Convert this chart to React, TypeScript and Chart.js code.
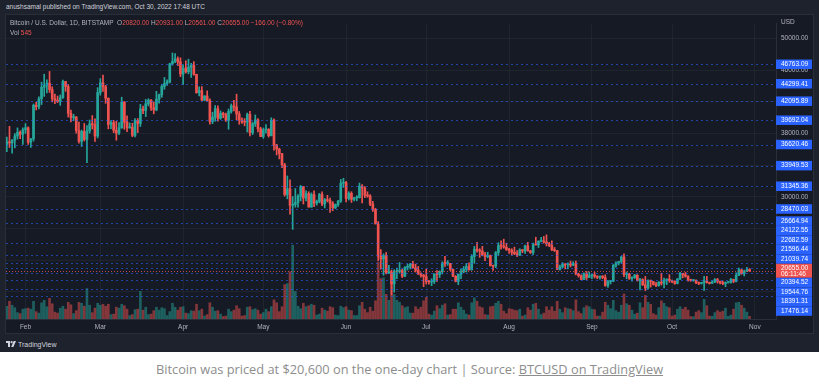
import React, { useEffect, useRef } from 'react';
import { Chart, registerables } from 'chart.js';

Chart.register(...registerables);

// Daily candles, BITSTAMP BTC/USD, 25 Jan 2022 .. 30 Oct 2022 (index 0 = 25 Jan)
const opens = [
  36660, 36960, 36820, 37180, 37710, 38170, 37920,
  38480, 38740, 36900, 37330, 41570, 41410, 42400, 43850, 44090, 44370, 43560, 42400, 42220, 42070, 42550, 44580, 43950, 40560, 40010, 40100, 38380, 37020, 38270, 37250, 38350, 39220, 39120, 37700,
  43190, 44420, 43920, 42460, 39150, 39400, 38420, 38060, 38740, 41980, 39440, 38730, 38810, 37780, 39670, 39280, 41120, 40920, 41760, 42230, 41260, 41000, 42360, 42900, 43960, 44330, 44520, 46820, 47130, 47450, 47060,
  45530, 46280, 45820, 46400, 46620, 45500, 43170, 43440, 42250, 42750, 42160, 39530, 40080, 41150, 39940, 40550, 40380, 39680, 40800, 41500, 41370, 40480, 39710, 39470, 39450, 40430, 38120, 39240, 39740, 38600,
  37630, 38470, 38530, 37740, 39700, 36570, 36040, 35470, 34060, 30300, 31010, 28940, 29050, 29280, 30080, 31300, 29860, 30420, 28710, 30290, 29200, 29430, 30300, 29100, 29650, 29540, 29200, 28620, 29010, 29450, 31730,
  31790, 29800, 30440, 29690, 29860, 29900, 31360, 31120, 30200, 30110, 29090, 28420, 26570, 22490, 22140, 22580, 20380, 20470, 19000, 20560, 20560, 20710, 19970, 21090, 21230, 21500, 21030, 20730, 20250, 20090,
  19930, 19280, 19250, 19300, 20230, 20190, 20550, 21620, 21590, 21590, 20850, 19960, 19320, 20210, 20570, 20830, 21190, 20780, 22470, 23390, 23230, 23150, 22680, 22450, 22580, 21310, 21250, 22950, 23850, 23780, 23640,
  23300, 23270, 22990, 22820, 22620, 23310, 23180, 23810, 23160, 22960, 23950, 23940, 24400, 24440, 24300, 24100, 23850, 23340, 23210, 20830, 21140, 21520, 21410, 21530, 21370, 21570, 20270, 20040, 19550, 20280, 19810,
  20050, 20130, 19950, 19830, 19990, 19800, 18790, 19290, 19320, 21360, 21650, 21840, 22400, 20180, 20230, 19700, 19800, 20110, 19420, 19540, 18880, 18480, 19410, 19300, 18920, 18800, 19220, 19080, 19410, 19590,
  19430, 19310, 19060, 19620, 20340, 20160, 19960, 19530, 19420, 19440, 19130, 19060, 19160, 19380, 19180, 19070, 19260, 19550, 19330, 19120, 19040, 19170, 19210, 19570, 19330, 20090, 20770, 20290, 20600, 20820,
];
const highs = [
  37550, 38920, 37230, 38000, 38720, 38360, 38740,
  39260, 38850, 37390, 41740, 41950, 42650, 44500, 45500, 44800, 45850, 43920, 43000, 42750, 42880, 44750, 44600, 44200, 40980, 40440, 40150, 39470, 38440, 39280, 39000, 39710, 40280, 39850, 43800,
  44950, 45400, 44100, 42520, 39650, 39660, 39550, 39380, 42600, 42050, 40250, 39350, 39310, 39900, 39900, 41700, 41480, 42320, 42400, 42300, 42000, 43350, 43000, 44200, 45100, 44780, 46900, 48190, 48100, 47700, 47580,
  46700, 47200, 47400, 46880, 47100, 45500, 43900, 43950, 42800, 43400, 42400, 40700, 41550, 41500, 40860, 40700, 40600, 41100, 41750, 42200, 42980, 40800, 39980, 39900, 40600, 40800, 39450, 40350, 39900, 38800,
  38700, 39150, 38630, 40000, 39850, 36650, 36150, 35520, 34250, 32650, 32150, 30050, 31050, 30300, 31450, 31300, 30750, 30650, 30500, 30750, 29600, 30450, 30650, 29800, 30200, 29850, 29400, 29100, 29550, 32200, 32350,
  31950, 30650, 30650, 29950, 30150, 31750, 31550, 31300, 30650, 30300, 29450, 28550, 26880, 23350, 22800, 22980, 21350, 20750, 20800, 21000, 21700, 20850, 21200, 21500, 21600, 21850, 21500, 21200, 20400, 20200,
  20880, 19450, 19650, 20300, 20700, 20650, 21800, 22500, 21950, 21600, 20870, 20050, 20250, 20900, 21200, 21600, 21650, 22700, 23750, 24250, 23450, 23750, 22980, 23000, 22650, 21350, 23100, 24200, 24450, 24650, 24150,
  23500, 23450, 23650, 23200, 23450, 23350, 23900, 24250, 23250, 24150, 24900, 24450, 24900, 25000, 25200, 24250, 24450, 23600, 23220, 21380, 21700, 21550, 21650, 21880, 21800, 21880, 20350, 20150, 20400, 20570, 20500,
  20200, 20450, 20050, 20000, 20050, 20150, 19450, 19450, 21450, 21800, 21800, 22500, 22800, 20500, 20350, 19900, 20200, 20150, 19700, 19650, 19950, 19500, 19500, 19300, 19200, 19300, 20350, 19750, 19650, 20180,
  19480, 19400, 19700, 20450, 20350, 20450, 20050, 19600, 19550, 19530, 19250, 19200, 19950, 19950, 19220, 19400, 19680, 19700, 19350, 19350, 19250, 19250, 19700, 19600, 20400, 21000, 20850, 20740, 21080, 20931,
];
const lows = [
  35700, 36250, 35510, 36200, 37310, 37360, 36630,
  38030, 36630, 36250, 37050, 40990, 41130, 41670, 42700, 43150, 43200, 42000, 41770, 41900, 41570, 42440, 43340, 40100, 39480, 39650, 38050, 36800, 36370, 37060, 34330, 38050, 38580, 37020, 37450,
  42850, 43330, 41830, 38600, 38620, 38100, 37160, 37870, 38660, 38550, 38250, 38670, 37600, 37580, 38130, 38900, 40530, 40150, 41500, 40920, 40500, 40880, 41850, 42580, 43600, 44100, 44400, 46650, 46950, 46600, 45200,
  44200, 45650, 45550, 45100, 45380, 43100, 42750, 42150, 42150, 42100, 39200, 39250, 39570, 39560, 39800, 40000, 39550, 38550, 40580, 40850, 39750, 39180, 39300, 38980, 38200, 37700, 37880, 38900, 38200, 37600,
  37400, 38050, 37550, 37700, 35900, 35300, 34800, 33700, 30100, 29750, 27800, 25900, 28700, 28700, 29500, 29100, 29500, 28700, 28700, 28750, 28950, 29250, 28900, 28600, 29350, 28050, 28250, 28500, 28800, 29300, 31200,
  29350, 29600, 29300, 29480, 29500, 29850, 29250, 29900, 29950, 28900, 28150, 26600, 21950, 20850, 20100, 20250, 20300, 17600, 17950, 19650, 20350, 19800, 19900, 20750, 20900, 21000, 20500, 20200, 19850, 18650,
  18980, 18980, 18780, 19050, 19300, 19800, 20250, 21200, 21350, 20680, 19900, 19250, 18900, 19650, 20400, 20500, 20750, 20750, 21600, 23000, 22350, 22550, 21950, 22300, 21250, 20700, 21050, 22600, 23400, 23500, 23250,
  22850, 22650, 22700, 22450, 22600, 22950, 22850, 23150, 22850, 22700, 23900, 23600, 24300, 24150, 23800, 23700, 23200, 23100, 20800, 20750, 21050, 20900, 20900, 21150, 21300, 20150, 19850, 19550, 19550, 19550, 19800,
  19650, 19750, 19650, 19600, 19650, 18700, 18550, 19000, 19300, 21100, 21400, 21600, 19900, 19650, 19550, 19350, 19700, 19350, 18250, 18800, 18150, 18350, 18600, 18850, 18650, 18700, 18850, 18500, 18900, 19200,
  19150, 18950, 19000, 19550, 19770, 19850, 19350, 19330, 19320, 19030, 18900, 18970, 18180, 19100, 18980, 19050, 19150, 19100, 19000, 18900, 18650, 19100, 19080, 19150, 19250, 20050, 20200, 20000, 20550, 20561,
];
const closes = [
  36960, 36820, 37180, 37710, 38170, 37920, 38480,
  38740, 36900, 37330, 41570, 41410, 42400, 43850, 44090, 44370, 43560, 42400, 42220, 42070, 42550, 44580, 43950, 40560, 40010, 40100, 38380, 37020, 38270, 37250, 38350, 39220, 39120, 37700, 43190,
  44420, 43920, 42460, 39150, 39400, 38420, 38060, 38740, 41980, 39440, 38730, 38810, 37780, 39670, 39280, 41120, 40920, 41760, 42230, 41260, 41000, 42360, 42900, 43960, 44330, 44520, 46820, 47130, 47450, 47060, 45530,
  46280, 45820, 46400, 46620, 45500, 43170, 43440, 42250, 42750, 42160, 39530, 40080, 41150, 39940, 40550, 40380, 39680, 40800, 41500, 41370, 40480, 39710, 39470, 39450, 40430, 38120, 39240, 39740, 38600, 37630,
  38470, 38530, 37740, 39700, 36570, 36040, 35470, 34060, 30300, 31010, 28940, 29050, 29280, 30080, 31300, 29860, 30420, 28710, 30290, 29200, 29430, 30300, 29100, 29650, 29540, 29200, 28620, 29010, 29450, 31730, 31790,
  29800, 30440, 29690, 29860, 29900, 31360, 31120, 30200, 30110, 29090, 28420, 26570, 22490, 22140, 22580, 20380, 20470, 19000, 20560, 20560, 20710, 19970, 21090, 21230, 21500, 21030, 20730, 20250, 20090, 19930,
  19280, 19250, 19300, 20230, 20190, 20550, 21620, 21590, 21590, 20850, 19960, 19320, 20210, 20570, 20830, 21190, 20780, 22470, 23390, 23230, 23150, 22680, 22450, 22580, 21310, 21250, 22950, 23850, 23780, 23640, 23300,
  23270, 22990, 22820, 22620, 23310, 23180, 23810, 23160, 22960, 23950, 23940, 24400, 24440, 24300, 24100, 23850, 23340, 23210, 20830, 21140, 21520, 21410, 21530, 21370, 21570, 20270, 20040, 19550, 20280, 19810, 20050,
  20130, 19950, 19830, 19990, 19800, 18790, 19290, 19320, 21360, 21650, 21840, 22400, 20180, 20230, 19700, 19800, 20110, 19420, 19540, 18880, 18480, 19410, 19300, 18920, 18800, 19220, 19080, 19410, 19590, 19430,
  19310, 19060, 19620, 20340, 20160, 19960, 19530, 19420, 19440, 19130, 19060, 19160, 19380, 19180, 19070, 19260, 19550, 19330, 19120, 19040, 19170, 19210, 19570, 19330, 20090, 20770, 20290, 20600, 20821, 20655,
];
const volumes = [
  2600, 3600, 2800, 2300, 1300, 1100, 2000,
  2100, 2200, 2000, 3600, 1500, 1200, 3300, 3800, 2500, 4200, 3100, 1400, 1200, 2200, 2600, 2000, 3400, 2900, 1100, 1700, 3400, 3200, 2600, 6200, 2800, 1300, 2200, 3200,
  2800, 3000, 2600, 3000, 900, 1000, 2400, 2200, 3000, 2700, 2000, 700, 900, 1900, 2000, 5600, 1800, 2400, 900, 1000, 1700, 2400, 1800, 2300, 2100, 700, 1500, 3200, 2400, 1800, 2400,
  2500, 1200, 1100, 1700, 1600, 3000, 1700, 2000, 600, 900, 3300, 2400, 1600, 1700, 1000, 500, 600, 2000, 1500, 1800, 2700, 2100, 600, 700, 2400, 2500, 1900, 2100, 1800, 1000,
  1300, 2000, 1500, 2500, 3900, 3300, 1500, 2500, 7000, 7200, 9600, 15000, 5600, 2600, 2100, 3200, 2500, 2700, 3000, 2800, 800, 1000, 2200, 1800, 1600, 2500, 2300, 800, 700, 2600, 2300,
  2500, 1800, 1700, 700, 700, 2700, 3400, 2000, 1300, 2400, 1600, 3700, 11600, 8200, 8400, 5000, 3800, 8800, 5000, 3800, 3400, 2700, 2300, 2500, 1200, 1200, 2500, 2000, 2400, 3700,
  4400, 1000, 800, 1600, 2700, 2100, 2800, 3100, 800, 900, 2000, 2000, 3300, 2400, 1800, 1000, 800, 3300, 4300, 3600, 2500, 2300, 900, 800, 2500, 2600, 3200, 3600, 3000, 1600, 1100,
  2100, 2000, 1800, 1700, 2000, 600, 800, 2300, 1800, 3000, 3200, 2000, 900, 1200, 2500, 1800, 2500, 1600, 3600, 2000, 1300, 2300, 2100, 2000, 1700, 3900, 1500, 1100, 2300, 2700, 2500,
  2000, 1900, 600, 600, 1400, 3400, 2800, 2100, 3800, 1700, 1400, 2800, 5100, 3100, 2800, 1800, 1000, 1200, 3300, 2300, 4800, 3400, 3000, 1100, 800, 2300, 3700, 3200, 2500, 2300,
  600, 800, 2000, 2500, 2000, 2400, 1800, 500, 450, 1400, 1700, 1300, 4000, 2700, 600, 550, 1300, 1700, 1400, 1600, 2200, 550, 800, 2000, 3300, 3400, 2800, 2200, 1400, 545,
];

const monthLabels = ['Feb', 'Mar', 'Apr', 'May', 'Jun', 'Jul', 'Aug', 'Sep', 'Oct', 'Nov'];
const monthStartIdx = [7, 35, 66, 96, 127, 157, 188, 219, 249, 280];
const priceTicks = [18000, 22000, 26000, 30000, 34000, 38000, 42000, 46000, 50000];
const levelPrices = [
  46763.09, 44299.41, 42095.89, 39692.04, 36620.46, 33949.53, 31345.36, 28470.03,
  26664.94, 24122.55, 22682.59, 21596.44, 21039.74, 20394.52, 19544.76, 18391.31, 17476.14,
];
const countdown = '06:11:46';

const TEAL = '#26a69a';
const RED = '#ef5350';
const TEAL_V = 'rgba(38,166,154,0.5)';
const RED_V = 'rgba(239,83,80,0.5)';
const AXIS_TXT = '#b2b5be';
const SMALL_FONT = '"Liberation Sans", Arial, sans-serif';

const overlayPlugin = {
  id: 'overlay',
  afterDatasetsDraw(chart: any) {
    const { ctx, chartArea: a, scales } = chart;
    const y = scales.y;
    ctx.save();
    ctx.beginPath();
    ctx.rect(a.left, a.top, a.right - a.left, a.bottom - a.top);
    ctx.clip();
    ctx.lineWidth = 1;
    ctx.setLineDash([2, 3]);
    ctx.strokeStyle = 'rgba(41,98,255,0.6)';
    for (const p of levelPrices) {
      const py = Math.round(y.getPixelForValue(p)) + 0.5;
      ctx.beginPath();
      ctx.moveTo(a.left, py);
      ctx.lineTo(a.right, py);
      ctx.stroke();
    }
    const last = closes[closes.length - 1];
    const ly = Math.round(y.getPixelForValue(last)) + 0.5;
    ctx.strokeStyle = 'rgba(239,83,80,0.8)';
    ctx.setLineDash([1, 2]);
    ctx.beginPath();
    ctx.moveTo(a.left, ly);
    ctx.lineTo(a.right, ly);
    ctx.stroke();
    ctx.restore();
  },
  afterDraw(chart: any) {
    const { ctx, chartArea: a, scales } = chart;
    const y = scales.y;
    const last = closes[closes.length - 1];
    type Item = { t: number; h: number; lines: string[]; color: string };
    const items: Item[] = levelPrices.map((p) => ({ t: y.getPixelForValue(p), h: 9.5, lines: [p.toFixed(2)], color: '#2962ff' }));
    items.push({ t: y.getPixelForValue(last), h: 14, lines: [last.toFixed(2), countdown], color: RED });
    items.sort((p, q) => p.t - q.t);
    let groups = items.map((it) => ({ items: [it], c: it.t, h: it.h }));
    let changed = true;
    while (changed) {
      changed = false;
      for (let i = 0; i < groups.length - 1; i++) {
        const g = groups[i];
        const n = groups[i + 1];
        if (g.c + g.h / 2 > n.c - n.h / 2) {
          const its = g.items.concat(n.items);
          const c = its.reduce((s, it) => s + it.t, 0) / its.length;
          groups.splice(i, 2, { items: its, c, h: g.h + n.h });
          changed = true;
          break;
        }
      }
    }
    ctx.save();
    ctx.font = `6.5px ${SMALL_FONT}`;
    ctx.textBaseline = 'middle';
    ctx.textAlign = 'left';
    const x0 = a.right;
    const w = 36;
    for (const g of groups) {
      let top = g.c - g.h / 2;
      if (top + g.h > a.bottom) top = a.bottom - g.h;
      if (top < a.top) top = a.top;
      for (const it of g.items) {
        ctx.fillStyle = it.color;
        ctx.fillRect(x0, top, w, it.h);
        ctx.fillStyle = '#ffffff';
        if (it.lines.length === 1) {
          ctx.fillText(it.lines[0], x0 + 5, top + it.h / 2);
        } else {
          ctx.fillText(it.lines[0], x0 + 5, top + 4);
          ctx.fillText(it.lines[1], x0 + 5, top + 10.5);
        }
        top += it.h;
      }
    }
    ctx.fillStyle = AXIS_TXT;
    ctx.fillText('USD', x0 + 5, 7);
    ctx.restore();
  },
};

export default function App() {
  const ref = useRef<HTMLCanvasElement | null>(null);

  useEffect(() => {
    if (!ref.current) return;
    const idx = closes.map((_, i) => i);
    const up = idx.map((i) => closes[i] >= opens[i]);
    const chart = new Chart(ref.current, {
      type: 'bar',
      data: {
        datasets: [
          {
            label: 'body',
            data: idx.map((i) => ({ x: i, y: [opens[i], closes[i]] })) as any,
            backgroundColor: up.map((u) => (u ? TEAL : RED)),
            barThickness: 2,
            minBarLength: 1,
            grouped: false,
            order: 1,
            yAxisID: 'y',
          } as any,
          {
            label: 'wick',
            data: idx.map((i) => ({ x: i, y: [lows[i], highs[i]] })) as any,
            backgroundColor: up.map((u) => (u ? TEAL : RED)),
            barThickness: 1,
            grouped: false,
            order: 2,
            yAxisID: 'y',
          } as any,
          {
            label: 'vol',
            data: idx.map((i) => ({ x: i, y: volumes[i] })) as any,
            backgroundColor: up.map((u) => (u ? TEAL_V : RED_V)),
            barThickness: 2,
            grouped: false,
            order: 3,
            yAxisID: 'yv',
          } as any,
        ],
      },
      options: {
        responsive: false,
        animation: false,
        devicePixelRatio: 1,
        layout: { padding: 0 },
        plugins: { legend: { display: false }, tooltip: { enabled: false } },
        scales: {
          x: {
            type: 'linear',
            min: -0.3,
            max: 287.9,
            offset: false,
            position: 'bottom',
            afterBuildTicks: (s: any) => {
              s.ticks = monthStartIdx.map((v) => ({ value: v }));
            },
            afterFit: (s: any) => {
              s.height = 14;
            },
            grid: { offset: false, color: 'rgba(42,46,57,0.55)', drawTicks: false },
            border: { color: '#2a2e39' },
            ticks: {
              autoSkip: false,
              maxRotation: 0,
              padding: 4,
              color: AXIS_TXT,
              font: { family: SMALL_FONT, size: 6.5 },
              callback: (v: any) => {
                const k = monthStartIdx.indexOf(Number(v));
                return k >= 0 ? monthLabels[k] : '';
              },
            },
          } as any,
          y: {
            type: 'linear',
            position: 'right',
            min: 14564,
            max: 51865,
            afterBuildTicks: (s: any) => {
              s.ticks = priceTicks.map((v) => ({ value: v }));
            },
            afterFit: (s: any) => {
              s.width = 37;
            },
            grid: { color: 'rgba(42,46,57,0.55)', drawTicks: false },
            border: { color: '#2a2e39' },
            ticks: {
              autoSkip: false,
              padding: 5,
              color: AXIS_TXT,
              font: { family: SMALL_FONT, size: 6.5 },
              callback: (v: any) => Number(v).toFixed(2),
            },
          } as any,
          yv: {
            type: 'linear',
            display: false,
            min: 0,
            max: 60000,
          },
        },
      },
      plugins: [overlayPlugin],
    });
    return () => chart.destroy();
  }, []);

  const n = closes.length;
  const o = opens[n - 1];
  const c = closes[n - 1];
  const chg = c - closes[n - 2];
  const pct = (chg / closes[n - 2]) * 100;
  const fmtSigned = (v: number, d: number) => (v < 0 ? '\u2212' : '+') + Math.abs(v).toFixed(d);
  const small: React.CSSProperties = { fontFamily: SMALL_FONT, fontSize: '6.5px', whiteSpace: 'pre', position: 'absolute' };

  return (
    <div style={{ position: 'absolute', left: 0, top: 0, width: 821, height: 387, background: '#ffffff', overflow: 'hidden' }}>
      <div style={{ position: 'absolute', left: 0, top: 0, width: 819, height: 352, background: '#1e222d' }}>
        <div style={{ ...small, left: 6, top: 3, color: '#d1d4dc', lineHeight: '8px' }}>
          anushsamal published on TradingView.com, Oct 30, 2022 17:48 UTC
        </div>
        <div style={{ position: 'absolute', left: 5, top: 14, width: 807, height: 318, border: '1px solid #2a2e39', background: '#161a25' }}>
          <canvas ref={ref} width={807} height={318} style={{ display: 'block', width: 807, height: 318 }} />
        </div>
        <div style={{ ...small, left: 10, top: 19, color: AXIS_TXT, lineHeight: '8px' }}>
          <span>Bitcoin / U.S. Dollar, 1D, BITSTAMP </span>
          <span> O</span><span style={{ color: RED }}>{o.toFixed(2)}</span>
          <span> H</span><span style={{ color: RED }}>{highs[n - 1].toFixed(2)}</span>
          <span> L</span><span style={{ color: RED }}>{lows[n - 1].toFixed(2)}</span>
          <span> C</span><span style={{ color: RED }}>{c.toFixed(2)}</span>
          <span style={{ color: RED }}>{' ' + fmtSigned(chg, 2) + ' (' + fmtSigned(pct, 2) + '%)'}</span>
        </div>
        <div style={{ ...small, left: 10, top: 29, color: AXIS_TXT, lineHeight: '8px' }}>
          <span>Vol </span><span style={{ color: RED }}>{String(volumes[n - 1])}</span>
        </div>
        <div style={{ position: 'absolute', left: 6, top: 340, height: 8, display: 'flex', alignItems: 'center' }}>
          <svg width="10" height="6" viewBox="0 0 10 6" style={{ display: 'block' }}>
            <rect x="0" y="0" width="4" height="2" fill="#d1d4dc" />
            <rect x="2" y="0" width="2" height="6" fill="#d1d4dc" />
            <circle cx="5.6" cy="1.2" r="1.1" fill="#d1d4dc" />
            <polygon points="7.6,0 10,0 7.4,6 5.2,6" fill="#d1d4dc" />
          </svg>
          <span style={{ fontFamily: SMALL_FONT, fontSize: '7px', color: '#d1d4dc', marginLeft: 2 }}>TradingView</span>
        </div>
      </div>
      <div style={{ position: 'absolute', left: 0, top: 360, width: 819, textAlign: 'center', fontFamily: '"Open Sans", sans-serif', fontSize: '12.8px', lineHeight: '18px', color: '#8d8d8d', whiteSpace: 'nowrap' }}>
        Bitcoin was priced at $20,600 on the one-day chart | Source: <span style={{ textDecoration: 'underline' }}>BTCUSD on TradingView</span>
      </div>
    </div>
  );
}
